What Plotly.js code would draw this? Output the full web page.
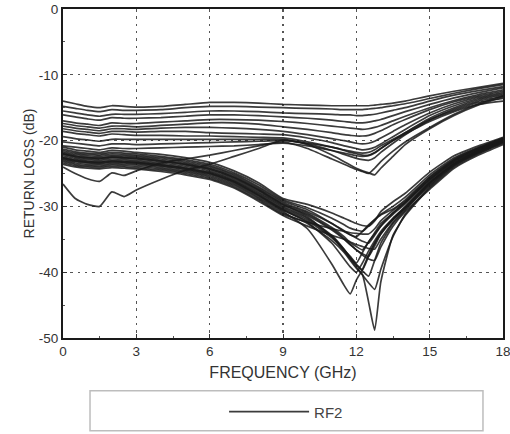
<!DOCTYPE html>
<html>
<head>
<meta charset="utf-8">
<script src="https://cdn.plot.ly/plotly-3.0.1.min.js"></script>
<style>html,body{margin:0;padding:0;background:#fff;}#chart{width:510px;height:434px;}</style>
</head>
<body>
<div id="chart"></div>
<script>
// Frequency points (GHz)
const freq = [0,0.5,1,1.5,2,2.5,3,4,5,6,7,8,9,10,11,11.5,11.75,12,12.25,12.5,12.75,13,13.5,14,15,16,17,18];

// Upper group of return-loss curves (dB)
const U1  = [-14.0,-14.4,-14.8,-15.0,-14.7,-14.8,-14.9,-14.8,-14.5,-14.2,-14.2,-14.3,-14.5,-14.6,-14.7,-14.7,-14.7,-14.7,-14.7,-14.7,-14.6,-14.5,-14.3,-14.0,-13.2,-12.5,-11.9,-11.3];
const U2  = [-14.8,-15.1,-15.4,-15.6,-15.3,-15.4,-15.4,-15.3,-15.0,-14.8,-14.8,-14.9,-15.0,-15.1,-15.2,-15.3,-15.3,-15.3,-15.3,-15.2,-15.1,-15.0,-14.7,-14.4,-13.6,-12.8,-12.1,-11.5];
const U3  = [-15.5,-15.8,-16.1,-16.3,-16.0,-16.0,-16.0,-15.9,-15.7,-15.5,-15.5,-15.6,-15.8,-15.9,-16.0,-16.1,-16.1,-16.2,-16.2,-16.1,-16.0,-15.8,-15.4,-15.0,-14.0,-13.1,-12.4,-11.8];
const U4  = [-16.1,-16.4,-16.7,-16.9,-16.5,-16.6,-16.6,-16.5,-16.3,-16.1,-16.1,-16.2,-16.4,-16.6,-16.9,-17.1,-17.2,-17.3,-17.3,-17.2,-17.0,-16.8,-16.2,-15.6,-14.5,-13.5,-12.7,-12.0];
const U5  = [-17.0,-17.3,-17.5,-17.7,-17.3,-17.4,-17.4,-17.2,-17.0,-16.8,-16.8,-16.9,-17.1,-17.4,-17.8,-18.0,-18.1,-18.2,-18.3,-18.2,-18.0,-17.7,-17.0,-16.3,-15.0,-13.9,-13.0,-12.3];
const U6  = [-17.4,-17.7,-17.9,-18.1,-17.8,-17.8,-17.9,-17.7,-17.5,-17.3,-17.3,-17.5,-17.9,-18.3,-18.8,-19.1,-19.2,-19.3,-19.3,-19.2,-18.9,-18.5,-17.6,-16.8,-15.3,-14.1,-13.2,-12.5];
const U7  = [-17.8,-18.1,-18.3,-18.5,-18.2,-18.2,-18.3,-18.1,-18.0,-18.0,-18.1,-18.3,-18.6,-19.1,-19.7,-20.0,-20.2,-20.4,-20.5,-20.4,-20.1,-19.6,-18.6,-17.6,-15.8,-14.4,-13.4,-12.7];
const U8  = [-18.2,-18.5,-18.7,-18.9,-18.6,-18.6,-18.7,-18.6,-18.6,-18.8,-18.9,-19.0,-19.1,-19.6,-20.3,-20.8,-21.0,-21.2,-21.4,-21.3,-21.0,-20.5,-19.4,-18.3,-16.2,-14.7,-13.6,-12.9];
const U9  = [-18.6,-18.9,-19.1,-19.3,-19.0,-19.1,-19.2,-19.2,-19.3,-19.3,-19.4,-19.5,-19.6,-20.2,-21.0,-21.5,-21.8,-22.0,-22.2,-22.2,-21.8,-21.2,-20.0,-18.8,-16.6,-15.0,-13.8,-13.1];
const U10 = [-19.4,-19.7,-19.9,-20.1,-19.8,-19.8,-19.8,-19.8,-19.8,-19.8,-19.8,-19.8,-19.8,-20.5,-21.5,-22.1,-22.4,-22.7,-22.9,-23.0,-22.6,-21.8,-20.4,-19.1,-16.9,-15.2,-14.0,-13.3];
const U11 = [-20.2,-20.4,-20.6,-20.8,-20.5,-20.5,-20.6,-20.5,-20.4,-20.3,-20.2,-20.1,-20.0,-20.4,-21.0,-21.4,-21.6,-21.8,-21.9,-21.8,-21.4,-20.8,-19.8,-18.8,-16.8,-15.4,-14.2,-13.6];
const U12 = [-20.8,-21.0,-21.2,-21.4,-21.1,-21.2,-21.2,-21.1,-21.0,-20.9,-20.8,-20.6,-20.4,-20.8,-21.5,-21.9,-22.1,-22.3,-22.4,-22.3,-21.9,-21.2,-20.0,-19.0,-17.1,-15.6,-14.5,-14.0];
const W1  = [-24.0,-25.0,-25.8,-26.2,-24.9,-25.3,-24.6,-23.4,-22.8,-22.2,-21.5,-20.8,-20.2,-21.2,-22.8,-23.6,-24.0,-24.4,-24.7,-25.0,-24.2,-23.2,-21.6,-20.2,-18.0,-16.0,-14.4,-13.2];
const W2  = [-26.6,-28.8,-29.7,-30.0,-27.8,-28.5,-27.5,-25.9,-24.5,-23.6,-22.4,-21.2,-19.9,-20.6,-22.2,-23.2,-23.7,-24.2,-24.6,-24.9,-25.2,-24.2,-22.4,-20.6,-18.2,-16.2,-14.6,-13.4];

// Lower group of return-loss curves (dB)
const L1  = [-21.0,-21.4,-21.6,-21.8,-21.5,-21.6,-21.8,-22.1,-22.6,-23.3,-24.6,-26.4,-28.8,-29.7,-31.0,-31.8,-32.2,-32.6,-32.9,-33.0,-32.2,-30.8,-29.3,-28.0,-24.8,-22.3,-20.8,-19.5];
const L2  = [-21.3,-21.7,-21.9,-22.0,-21.8,-21.9,-22.0,-22.4,-22.9,-23.6,-24.9,-26.7,-29.0,-30.2,-31.8,-32.8,-33.3,-33.6,-33.8,-33.0,-32.0,-31.2,-30.0,-28.6,-25.2,-22.6,-21.0,-19.6];
const L3  = [-21.5,-21.9,-22.1,-22.2,-22.0,-22.1,-22.2,-22.6,-23.1,-23.8,-25.1,-27.0,-29.2,-30.5,-32.6,-33.8,-34.3,-34.6,-33.8,-32.8,-32.0,-31.3,-30.4,-29.0,-25.5,-22.8,-21.1,-19.7];
const L4  = [-21.7,-22.1,-22.3,-22.4,-22.2,-22.3,-22.4,-22.8,-23.3,-24.0,-25.3,-27.2,-29.4,-30.8,-32.6,-33.7,-34.3,-34.8,-35.3,-35.6,-34.4,-33.0,-31.0,-29.4,-25.8,-23.0,-21.2,-19.8];
const L5  = [-21.9,-22.3,-22.5,-22.6,-22.4,-22.5,-22.6,-23.0,-23.5,-24.2,-25.5,-27.4,-29.6,-31.0,-33.2,-34.6,-35.5,-36.1,-36.6,-35.4,-34.0,-32.6,-31.0,-29.4,-25.9,-23.1,-21.3,-19.8];
const L6  = [-22.1,-22.5,-22.7,-22.8,-22.6,-22.7,-22.8,-23.2,-23.7,-24.4,-25.7,-27.6,-29.8,-31.2,-33.4,-34.9,-35.8,-36.6,-37.2,-37.6,-36.0,-34.2,-31.8,-30.0,-26.2,-23.3,-21.5,-19.9];
const L7  = [-22.3,-22.7,-22.9,-23.0,-22.8,-22.9,-23.0,-23.4,-23.9,-24.6,-25.9,-27.8,-30.0,-31.6,-34.6,-36.6,-37.6,-38.6,-37.0,-35.4,-34.2,-33.0,-31.2,-29.6,-26.0,-23.2,-21.4,-19.9];
const L8  = [-22.5,-22.9,-23.1,-23.2,-23.0,-23.1,-23.2,-23.6,-24.1,-24.8,-26.1,-28.0,-30.2,-31.8,-34.4,-36.5,-37.8,-38.8,-39.6,-37.6,-35.6,-34.0,-32.0,-30.2,-26.4,-23.5,-21.6,-20.0];
const L9  = [-22.6,-23.0,-23.2,-23.3,-23.1,-23.2,-23.3,-23.7,-24.2,-24.9,-26.2,-28.2,-30.4,-32.0,-34.6,-36.6,-37.8,-38.9,-39.8,-40.6,-38.2,-35.6,-32.6,-30.6,-26.6,-23.6,-21.7,-20.1];
const L10 = [-22.8,-23.2,-23.4,-23.5,-23.3,-23.4,-23.5,-23.9,-24.4,-25.1,-26.4,-28.4,-30.6,-32.2,-34.8,-36.8,-38.0,-39.2,-40.4,-41.6,-42.6,-39.6,-34.6,-31.2,-27.0,-23.8,-21.8,-20.2];
const L11 = [-23.0,-23.4,-23.6,-23.7,-23.5,-23.6,-23.7,-24.1,-24.6,-25.3,-26.6,-28.6,-30.8,-33.4,-38.8,-42.0,-43.3,-41.2,-39.6,-37.4,-35.6,-34.2,-32.0,-30.2,-26.4,-23.5,-21.6,-20.1];
const L12 = [-23.2,-23.6,-23.8,-23.9,-23.7,-23.8,-23.9,-24.3,-24.8,-25.5,-26.8,-28.8,-31.0,-32.6,-35.2,-37.0,-38.2,-39.4,-40.4,-44.5,-48.8,-41.5,-34.4,-31.4,-27.2,-24.0,-22.0,-20.3];
const L13 = [-23.4,-23.8,-24.0,-24.1,-23.9,-24.0,-24.1,-24.5,-25.0,-25.7,-27.0,-29.0,-31.2,-32.4,-33.4,-33.8,-34.0,-34.1,-34.2,-34.2,-33.4,-32.2,-30.6,-29.2,-25.6,-22.9,-21.2,-19.8];
const L14 = [-23.6,-24.0,-24.2,-24.3,-24.1,-24.2,-24.3,-24.7,-25.2,-25.9,-27.2,-29.2,-31.4,-33.0,-34.4,-35.0,-35.4,-35.8,-36.1,-36.4,-36.5,-35.0,-32.4,-30.4,-26.8,-23.8,-21.9,-20.4];
const L15 = [-22.0,-22.4,-22.6,-22.7,-22.5,-22.6,-22.7,-23.1,-23.6,-24.3,-25.6,-27.5,-29.7,-31.4,-33.6,-35.0,-35.8,-36.6,-37.4,-38.0,-38.2,-36.2,-33.0,-30.8,-27.4,-24.2,-22.2,-20.6];
const L16 = [-22.7,-23.1,-23.3,-23.4,-23.2,-23.3,-23.4,-23.8,-24.3,-25.0,-26.3,-28.3,-30.5,-32.4,-35.6,-38.0,-39.2,-40.0,-38.6,-36.8,-35.2,-33.8,-31.8,-30.2,-26.5,-23.6,-21.7,-20.2];

const seriesName = "RF2";
const xTicks = [0,3,6,9,12,15,18];
const yTicks = [0,-10,-20,-30,-40,-50];

const allSeries = [U1,U2,U3,U4,U5,U6,U7,U8,U9,U10,U11,U12,W1,W2,
                   L1,L2,L3,L4,L5,L6,L7,L8,L9,L10,L11,L12,L13,L14,L15,L16];

const traces = allSeries.map((ys, i) => ({
  x: freq, y: ys, type: 'scatter', mode: 'lines',
  name: seriesName, showlegend: i === 0, legendgroup: 'rf2',
  line: {color: 'rgba(25,25,25,0.85)', width: 1.7, shape: 'spline', smoothing: 0.5},
  hoverinfo: 'skip'
}));

const fontFam = '"Liberation Sans", Arial, sans-serif';
const layout = {
  width: 510, height: 434,
  margin: {l: 63, r: 7, t: 9, b: 95},
  paper_bgcolor: '#fff', plot_bgcolor: '#fff',
  font: {family: fontFam, size: 13, color: '#333'},
  showlegend: true,
  legend: {
    orientation: 'h', x: 0.507, xanchor: 'center', y: -0.221, yanchor: 'middle',
    bgcolor: 'rgba(0,0,0,0)', borderwidth: 0, itemwidth: 80,
    font: {family: fontFam, size: 15, color: '#444'}
  },
  xaxis: {
    range: [0, 18], tickvals: xTicks, ticktext: xTicks.map(String),
    ticklabeloverflow: 'allow',
    showline: true, linecolor: '#1a1a1a', linewidth: 2, mirror: true,
    ticks: 'inside', ticklen: 4, tickcolor: '#333',
    minor: {dtick: 1.5, ticks: 'inside', ticklen: 2, tickcolor: '#555', showgrid: false},
    showgrid: true, gridcolor: '#555', griddash: '2.5px,4.8px', gridwidth: 1.3,
    zeroline: false,
    tickfont: {family: fontFam, size: 13.5, color: '#333'},
    title: {text: 'FREQUENCY (GHz)', font: {family: fontFam, size: 16, color: '#333'}, standoff: 9}
  },
  yaxis: {
    range: [-50, 0], tickvals: yTicks, ticktext: yTicks.map(String),
    showline: true, linecolor: '#1a1a1a', linewidth: 2, mirror: true,
    ticks: 'inside', ticklen: 4, tickcolor: '#333',
    minor: {dtick: 5, ticks: 'inside', ticklen: 2, tickcolor: '#555', showgrid: false},
    showgrid: true, gridcolor: '#555', griddash: '2.5px,4.8px', gridwidth: 1.3,
    zeroline: false,
    tickfont: {family: fontFam, size: 13.5, color: '#333'},
    title: {text: 'RETURN LOSS (dB)', font: {family: fontFam, size: 14, color: '#333'}, standoff: 1}
  },
  shapes: [{
    type: 'rect', xref: 'paper', yref: 'paper',
    x0: 0.0614, x1: 0.9545, y0: -0.2818, y1: -0.1606,
    line: {color: '#bdbdbd', width: 1.5}, fillcolor: 'rgba(0,0,0,0)'
  }]
};

Plotly.newPlot('chart', traces, layout, {displayModeBar: false, staticPlot: true});
</script>
</body>
</html>
